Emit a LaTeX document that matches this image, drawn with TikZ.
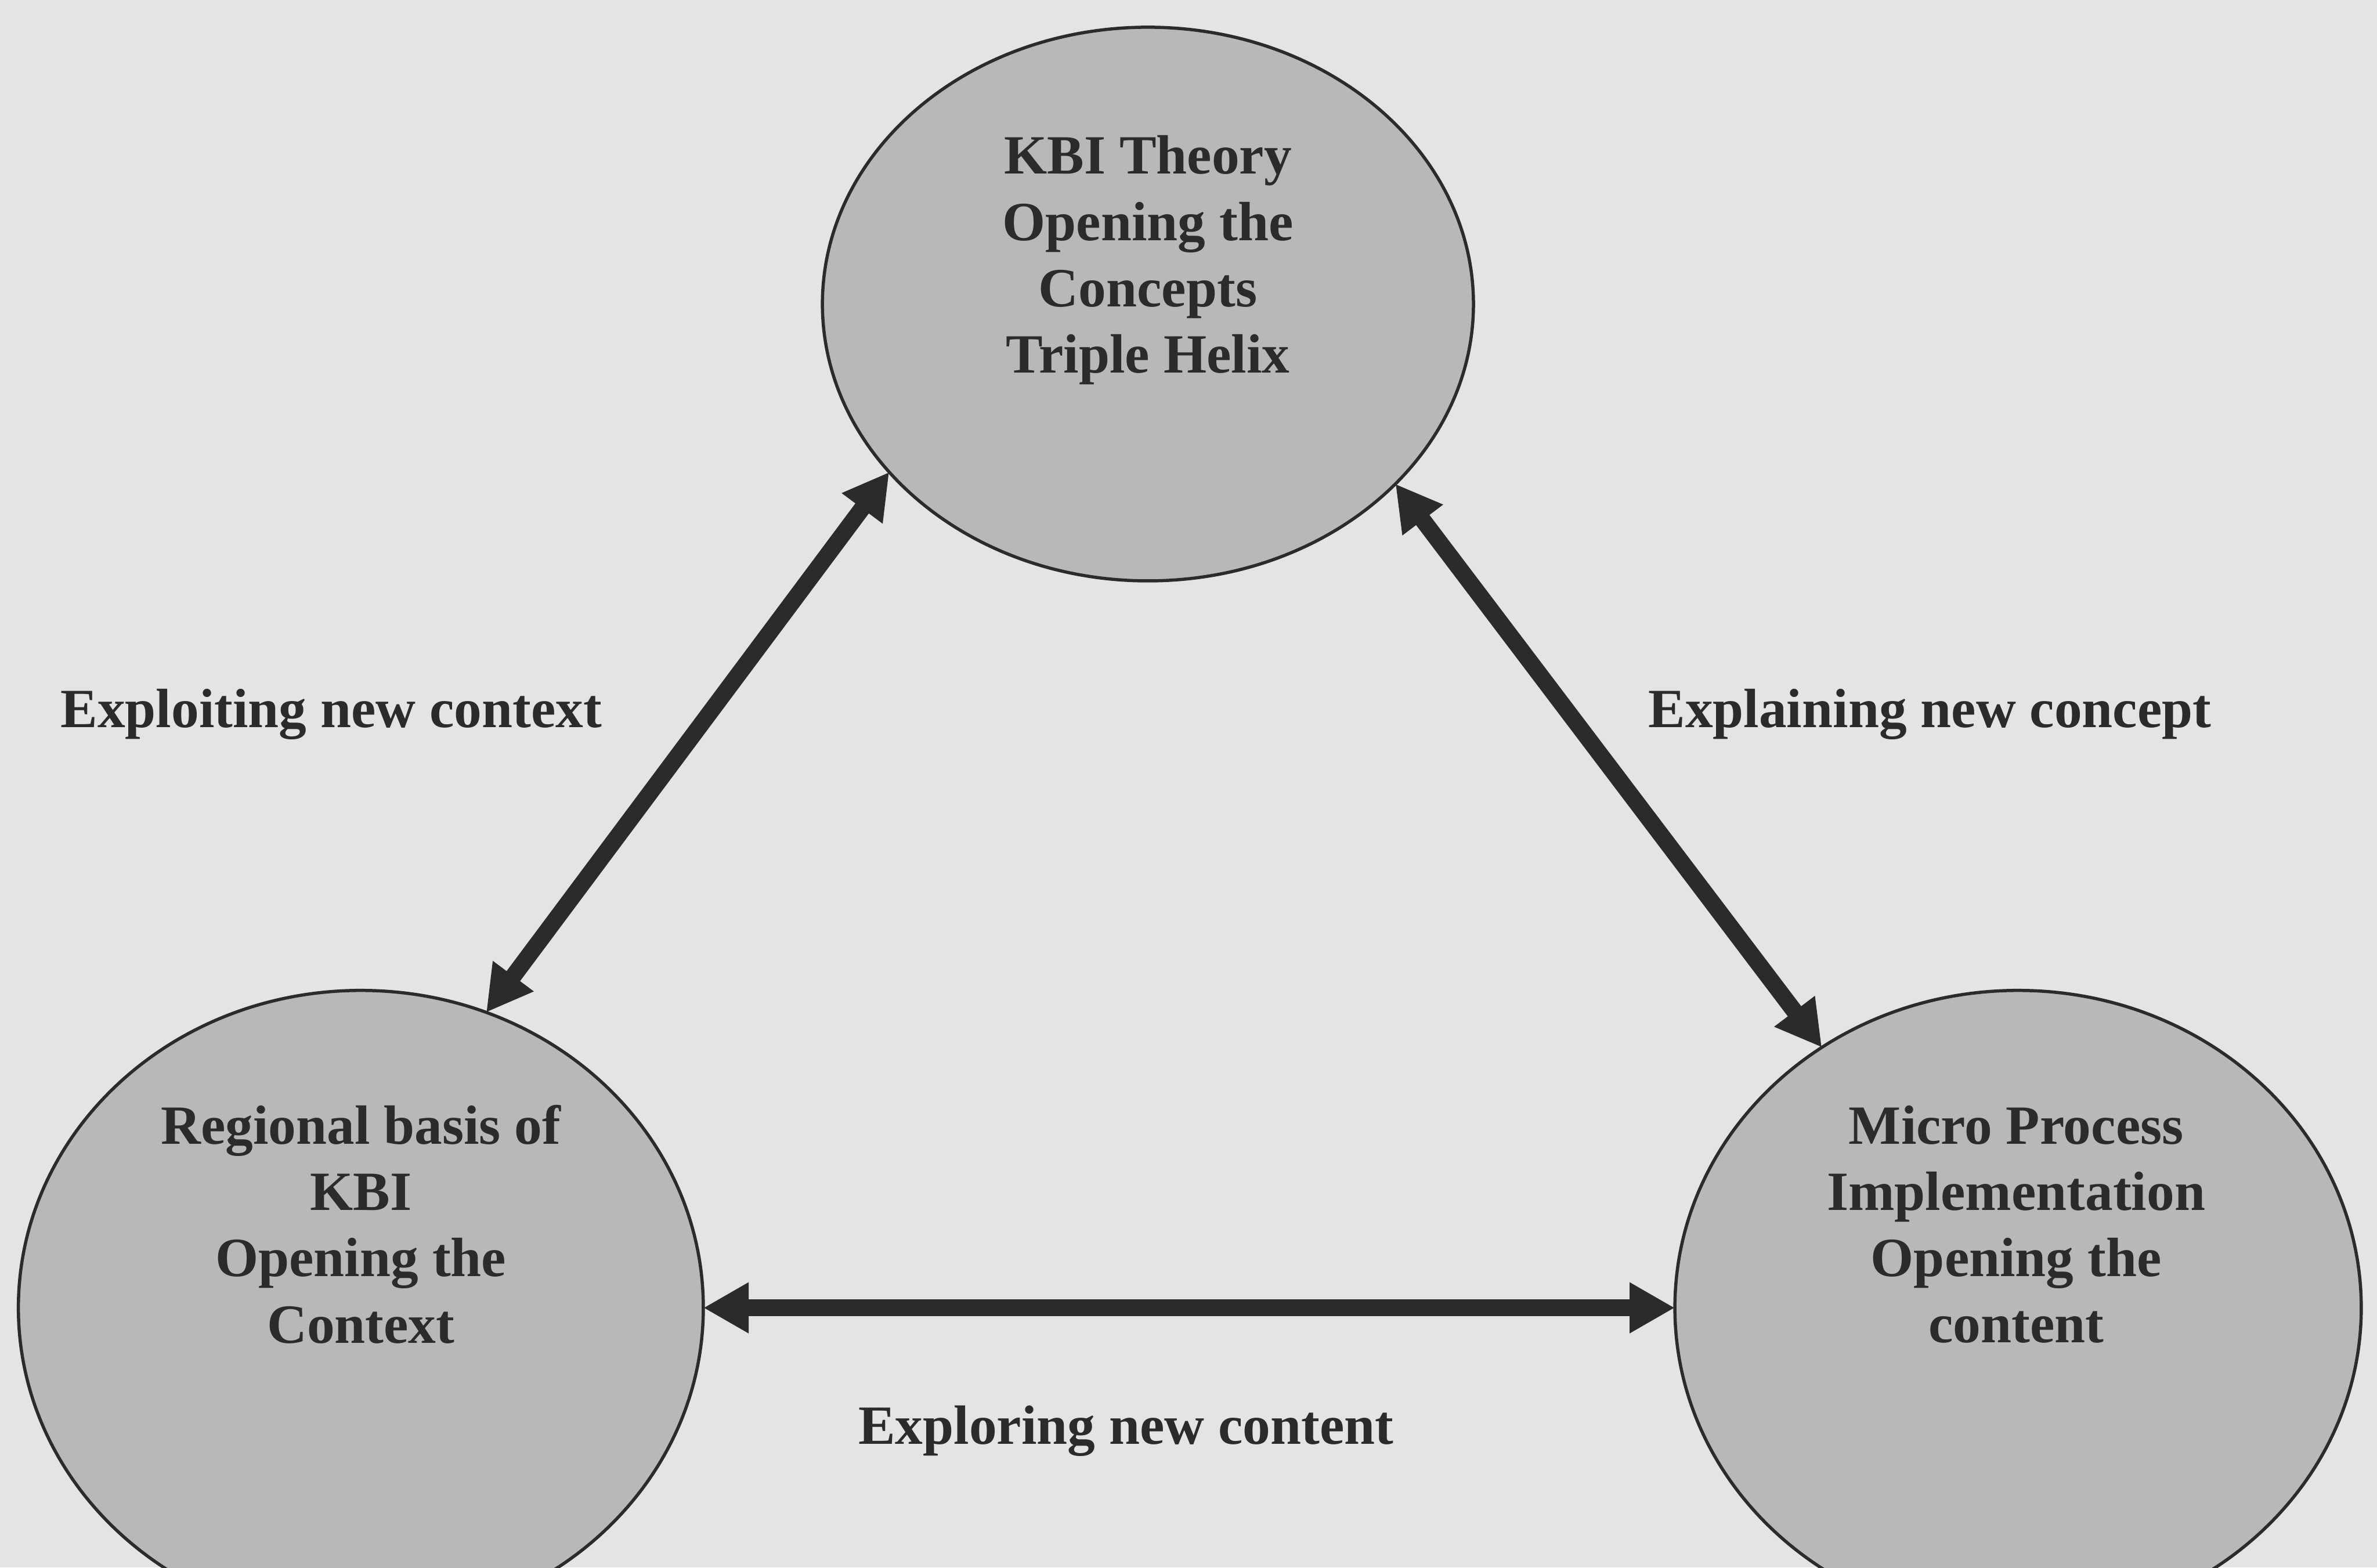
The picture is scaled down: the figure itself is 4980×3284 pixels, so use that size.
\documentclass[tikz,border=0pt]{standalone}
\usepackage{fontspec}
\setmainfont{Liberation Serif}
\usetikzlibrary{shapes.geometric,arrows.meta,calc}
\definecolor{paper}{HTML}{E4E4E4}
\definecolor{blob}{HTML}{B8B8B8}
\definecolor{ink}{HTML}{2B2B2B}
\tikzset{
  blobnode/.style={ellipse, draw=ink, line width=1.9pt, fill=blob, outer sep=0pt, inner sep=0pt},
  blobtext/.style={align=center, text=ink, font=\fontsize{33}{39.5}\selectfont\bfseries},
  caption/.style={text=ink, font=\fontsize{33}{39.5}\selectfont\bfseries, inner sep=0pt},
  tip/.style={Triangle[length=0.95cm,width=1.0cm]},
  link/.style={draw=ink, line width=10pt, {Triangle[length=0.95cm,width=1.0cm]}-{Triangle[length=0.95cm,width=1.0cm]}}
}
\begin{document}
\begin{tikzpicture}[x=0.1mm, y=-0.1mm]
  % page
  \fill[paper] (0,0) rectangle (4980,3284);
  \useasboundingbox (0,0) rectangle (4980,3284);

  % the three circles
  \node[blobnode, minimum width=13.64cm, minimum height=11.6cm] (theory) at (2405,637) {};
  \node[blobnode, minimum width=14.35cm, minimum height=13.3cm] (region) at (756,2740) {};
  \node[blobnode, minimum width=14.38cm, minimum height=13.3cm] (micro) at (4228,2740) {};

  % their texts
  \node[blobtext] (theorytxt) at (2405,545) {KBI Theory\\Opening the\\Concepts\\Triple Helix};
  \node[blobtext] (regiontxt) at (756,2565) {Regional basis of\\KBI\\Opening the\\Context};
  \node[blobtext] (microtxt) at (4224,2565) {Micro Process\\Implementation\\Opening the\\content};

  % two-way links
  \draw[link] (region.67) -- (theory.213);
  \draw[link] (theory.324) -- (micro.127);
  \draw[link] (region.east) -- (micro.west);

  % link captions
  \node[caption] (ctx) at (694,1496) {Exploiting new context};
  \node[caption] (cpt) at (4043,1496) {Explaining new concept};
  \node[caption] (cnt) at (2359,2998) {Exploring new content};
\end{tikzpicture}
\end{document}
